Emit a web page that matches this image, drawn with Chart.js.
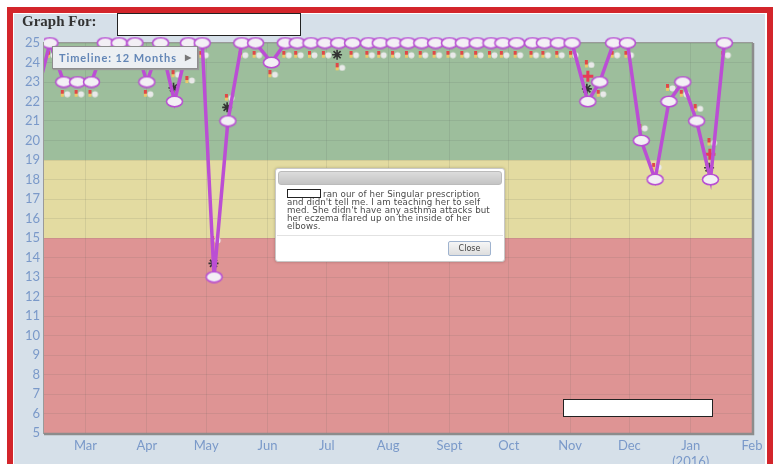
<!DOCTYPE html>
<html>
<head>
<meta charset="utf-8">
<script src="https://cdn.jsdelivr.net/npm/chart.js@4.4.0/dist/chart.umd.min.js"></script>
<style>
html,body{margin:0;padding:0;background:#fff;}
#wrap{position:relative;width:779px;height:464px;overflow:hidden;background:#fff;}
#frame{position:absolute;left:7px;top:7px;width:766px;height:470px;box-sizing:border-box;border:6px solid #d3252b;border-bottom:none;background:#fff;}
#panel{position:absolute;left:14px;top:14px;width:751px;height:460px;background:#d6e0e9;}
#chart{position:absolute;left:0;top:0;}
#title{position:absolute;left:22px;top:13px;font:bold 15px "Liberation Serif",serif;color:#333;}
#namebox{position:absolute;left:117px;top:13px;width:182px;height:21px;background:#fff;border:1px solid #222;}
#timeline{position:absolute;left:52px;top:46px;width:146px;height:23px;box-sizing:border-box;background:#eceff2;border:1px solid #8d8d8d;box-shadow:1px 1px 1px #999;font:bold 11px "Lato",sans-serif;color:#6386b6;letter-spacing:0.9px;line-height:21px;padding-left:6px;}
#timeline span{position:absolute;right:6px;top:0;color:#777;font-size:8px;letter-spacing:0;}
#dialog{position:absolute;left:275px;top:168px;width:230px;height:94px;box-sizing:border-box;background:#fff;border:1px solid #c8c8c8;border-radius:3px;box-shadow:0 0 3px rgba(0,0,0,0.25);}
#dhead{position:absolute;left:2px;top:2px;width:224px;height:14px;border-radius:3px;background:linear-gradient(#dcdcdc,#c4c4c4);border:1px solid #bbb;box-sizing:border-box;}
#dtext{position:absolute;left:11px;top:20px;width:215px;white-space:nowrap;font:8.7px "DejaVu Sans",sans-serif;letter-spacing:0.1px;line-height:8px;color:#4a4a4a;}
#dtext i{display:inline-block;width:32px;height:7px;border:1px solid #222;background:#fff;vertical-align:-1px;margin-right:2px;}
#dsep{position:absolute;left:1px;right:1px;top:66px;border-top:1px solid #e2e2e2;}
#dclose{position:absolute;left:172px;top:72px;width:43px;height:15px;box-sizing:border-box;border:1px solid #9fb3cf;border-radius:2px;background:linear-gradient(#f6f6f6,#dedede);font:8px "DejaVu Sans",sans-serif;color:#444;text-align:center;line-height:13px;}
#hidebox{position:absolute;left:563px;top:399px;width:148px;height:16px;background:#fff;border:1px solid #222;}
</style>
</head>
<body>
<div id="wrap">
  <div id="frame"></div>
  <div id="panel"></div>
  <canvas id="chart" width="779" height="464"></canvas>
  <div id="title">Graph For:</div>
  <div id="namebox"></div>
  <div id="timeline">Timeline: 12 Months<span>&#9654;</span></div>
  <div id="dialog">
    <div id="dhead"></div>
    <div id="dtext"><i></i>ran our of her Singular prescription<br>and didn't tell me. I am teaching her to self<br>med. She didn't have any asthma attacks but<br>her eczema flared up on the inside of her<br>elbows.</div>
    <div id="dsep"></div>
    <div id="dclose">Close</div>
  </div>
  <div id="hidebox"></div>
</div>
<script>
// x values are days counted from 1 Jan 2015
const days = [31, 41, 48, 55, 62, 69, 76, 84, 90, 97, 104, 111, 118, 124, 131, 138, 145, 153,
  160, 166, 173, 180, 187, 194, 202, 208, 215, 222, 229, 236, 243, 250, 257, 264, 270, 277, 285, 291, 298, 305,
  313, 319, 326, 333, 340, 347, 354, 361, 368, 375, 382];
const scores = [21, 25, 23, 23, 23, 25, 25, 25, 23, 25, 22, 25, 25, 13, 21, 25, 25, 24,
  25, 25, 25, 25, 25, 25, 25, 25, 25, 25, 25, 25, 25, 25, 25, 25, 25, 25, 25, 25, 25, 25,
  22, 23, 25, 25, 20, 18, 22, 23, 21, 18, 25];
const pillValues = [20.4, 24.4, 22.4, 22.4, 22.4, 24.4, 24.4, 24.4, 22.4, 24.4, 23.4, 23.1, 24.4, 14.9, 22.2, 24.4, 24.4, 23.4,
  24.4, 24.4, 24.4, 24.4, 23.75, 24.4, 24.4, 24.4, 24.4, 24.4, 24.4, 24.4, 24.4, 24.4, 24.4, 24.4, 24.4, 24.4, 24.4, 24.4, 24.4, 24.4,
  23.9, 22.4, 24.4, 24.4, 20.65, 18.65, 22.7, 22.4, 21.65, 19.9, 24.4];
const starDays = [103.5, 123.7, 130.6, 186.2, 312.5, 374.3];
const starValues = [22.7, 13.7, 21.7, 24.4, 22.65, 18.6];
const plusDays = [313, 374.7];
const plusValues = [23.3, 19.3];
const monthStarts = [59, 90, 120, 151, 181, 212, 243, 273, 304, 334, 365, 396];
const monthLabels = ['Mar', 'Apr', 'May', 'Jun', 'Jul', 'Aug', 'Sept', 'Oct', 'Nov', 'Dec', ['Jan', '(2016)'], 'Feb'];
const zoneLimits = [5, 15, 19, 25];
const zoneColors = ['#de9494', '#e3dba1', '#9dbe9c'];

// ellipse marker
function makeEllipse() {
  const c = document.createElement('canvas');
  c.width = 19; c.height = 13;
  const g = c.getContext('2d');
  g.beginPath();
  g.ellipse(9.5, 6.5, 8, 5.3, 0, 0, Math.PI * 2);
  g.fillStyle = '#f3eff5';
  g.fill();
  g.lineWidth = 1.6;
  g.strokeStyle = '#b84fd2';
  g.stroke();
  return c;
}
// small pill icon
function makePill() {
  const c = document.createElement('canvas');
  c.width = 18; c.height = 8;
  const g = c.getContext('2d');
  g.fillStyle = '#e04848';
  g.fillRect(6, 0, 3, 4);
  g.fillStyle = '#ecc86a';
  g.fillRect(6, 4, 3, 3);
  g.beginPath();
  g.arc(12.5, 4.5, 3, 0, Math.PI * 2);
  g.fillStyle = '#e9e9e9';
  g.fill();
  return c;
}

const zones = {
  id: 'zones',
  beforeDraw(chart) {
    const {ctx, chartArea, scales} = chart;
    ctx.save();
    for (let i = 0; i < zoneColors.length; i++) {
      const yTop = scales.y.getPixelForValue(zoneLimits[i + 1]);
      const yBot = scales.y.getPixelForValue(zoneLimits[i]);
      ctx.fillStyle = zoneColors[i];
      ctx.fillRect(chartArea.left, yTop, chartArea.right - chartArea.left, yBot - yTop);
    }
    ctx.restore();
  },
  beforeDatasetsDraw(chart) {
    const {ctx, chartArea} = chart;
    ctx.save();
    ctx.strokeStyle = '#9a9a9a';
    ctx.lineWidth = 1;
    ctx.strokeRect(chartArea.left - 0.5, chartArea.top - 0.5, chartArea.right - chartArea.left + 1, chartArea.bottom - chartArea.top + 1);
    ctx.strokeStyle = '#8c8c8c';
    ctx.lineWidth = 2.5;
    ctx.beginPath();
    ctx.moveTo(chartArea.left, chartArea.bottom + 1);
    ctx.lineTo(chartArea.right + 1, chartArea.bottom + 1);
    ctx.lineTo(chartArea.right + 1, chartArea.top);
    ctx.stroke();
    ctx.restore();
  }
};

const tickFont = {family: '"Comic Sans MS", "Lato", sans-serif', size: 13};
const tickColor = '#7a99c9';

new Chart(document.getElementById('chart'), {
  type: 'line',
  data: {
    datasets: [{
      data: days.map((d, i) => ({x: d, y: scores[i]})),
      borderColor: '#bb4ed4',
      borderWidth: 3.5,
      pointStyle: makeEllipse(),
      clip: {left: 0, top: 12, right: 12, bottom: 12},
      tension: 0
    }, {
      type: 'scatter',
      data: starDays.map((d, i) => ({x: d, y: starValues[i]})),
      pointStyle: 'star',
      radius: 5,
      borderColor: '#333',
      borderWidth: 1.6
    }, {
      type: 'scatter',
      data: plusDays.map((d, i) => ({x: d, y: plusValues[i]})),
      pointStyle: 'cross',
      radius: 5.5,
      borderColor: '#e63c55',
      borderWidth: 3
    }, {
      type: 'scatter',
      data: days.map((d, i) => ({x: d, y: pillValues[i]})),
      pointStyle: makePill()
    }]
  },
  options: {
    responsive: false,
    animation: false,
    events: [],
    layout: {padding: {left: 14, top: 43, right: 27, bottom: 0}},
    plugins: {legend: {display: false}, tooltip: {enabled: false}},
    scales: {
      x: {
        type: 'linear',
        min: 38,
        max: 396,
        afterBuildTicks: s => { s.ticks = monthStarts.map(v => ({value: v})); },
        afterFit: s => { s.height = 31; },
        grid: {color: 'rgba(80,90,80,0.12)', drawTicks: false},
        border: {display: false},
        ticks: {
          padding: 5,
          font: tickFont,
          color: tickColor,
          maxRotation: 0,
          autoSkip: false,
          callback: (v, i) => monthLabels[i]
        }
      },
      y: {
        min: 5,
        max: 25,
        afterFit: s => { s.width = 30; },
        grid: {color: 'rgba(80,90,80,0.12)', drawTicks: false},
        border: {display: false},
        ticks: {stepSize: 1, padding: 4, font: tickFont, color: tickColor, autoSkip: false}
      }
    }
  },
  plugins: [zones]
});
</script>
</body>
</html>
